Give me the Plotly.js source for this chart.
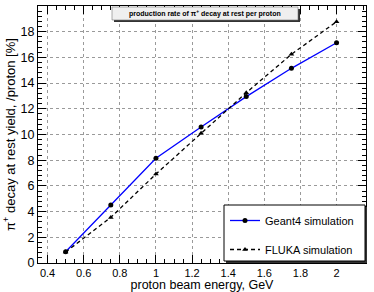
<!DOCTYPE html>
<html>
<head>
<meta charset="utf-8">
<script src="https://cdn.plot.ly/plotly-3.0.1.min.js"></script>
<style>html,body{margin:0;padding:0;background:#fff;}#chart{width:374px;height:292px;}</style>
</head>
<body>
<div id="chart"></div>
<script>
var energies = [0.5, 0.75, 1.0, 1.25, 1.5, 1.75, 2.0];
var geant4Yield = [0.88, 4.51, 8.15, 10.58, 12.95, 15.15, 17.14];
var flukaYield = [0.85, 3.55, 6.92, 10.09, 13.25, 16.24, 18.78];
var seriesNames = ["Geant4 simulation", "FLUKA simulation"];
var chartTitle = "<b>production rate of π<sup>+</sup> decay at rest per proton</b>";
var xTitle = "proton beam energy, GeV";
var yTitle = "π<sup>+</sup> decay at rest yield, /proton [%]";

var W = 374, H = 292, ML = 38, MR = 8, MT = 6, MB = 29;
var PW = W - ML - MR, PH = H - MT - MB;
function px(x) { return (x - ML) / PW; }
function py(y) { return (H - MB - y) / PH; }

var font = "Liberation Sans, Arial, Helvetica, sans-serif";

var traces = [
  {
    x: energies, y: geant4Yield, name: seriesNames[0], mode: "lines+markers",
    line: {color: "#0000ff", width: 1.3},
    marker: {symbol: "circle", size: 5, color: "#000"},
    legendgroup: "g1"
  },
  {
    x: energies, y: flukaYield, name: seriesNames[1], mode: "lines+markers",
    line: {color: "#000", width: 1.3, dash: "4px,3px"},
    marker: {symbol: "triangle-up", size: 5, color: "#000"},
    legendgroup: "g2"
  }
];

var axisCommon = {
  showline: true, linecolor: "#000", linewidth: 1, mirror: "ticks",
  ticks: "inside", ticklen: 8, tickwidth: 1, tickcolor: "#000",
  showgrid: true, gridcolor: "#9a9a9a", griddash: "dot", gridwidth: 1,
  zeroline: false
};

var layout = {
  width: W, height: H,
  margin: {l: ML, r: MR, t: MT, b: MB, pad: 0},
  paper_bgcolor: "#fff", plot_bgcolor: "#fff",
  font: {family: font, color: "#000"},
  showlegend: true,
  legend: {
    x: px(225), y: py(206), xanchor: "left", yanchor: "top",
    bgcolor: "rgba(0,0,0,0)", borderwidth: 0,
    font: {size: 11, family: font, color: "#000"},
    traceorder: "grouped", tracegroupgap: 10
  },
  xaxis: Object.assign({}, axisCommon, {
    range: [0.347, 2.163], tick0: 0.4, dtick: 0.2,
    tickfont: {size: 11, family: font, color: "#000"},
    minor: {dtick: 0.05, ticklen: 4, ticks: "inside", tickcolor: "#000", showgrid: false},
    title: {text: xTitle, font: {size: 12.5, family: font, color: "#000"}, standoff: 4}
  }),
  yaxis: Object.assign({}, axisCommon, {
    range: [0, 20], tick0: 0, dtick: 2,
    tickfont: {size: 12.5, family: font, color: "#000"},
    minor: {dtick: 0.4, ticklen: 4, ticks: "inside", tickcolor: "#000", showgrid: false},
    title: {text: yTitle, font: {size: 13, family: font, color: "#000"}, standoff: 2}
  }),
  shapes: [
    {type: "rect", xref: "paper", yref: "paper", layer: "above",
     x0: px(114), x1: px(300), y0: py(22), y1: py(9), fillcolor: "#333", line: {width: 0}},
    {type: "rect", xref: "paper", yref: "paper", layer: "above",
     x0: px(112), x1: px(298), y0: py(20), y1: py(7), fillcolor: "#efefef", line: {color: "#777", width: 0.6}},
    {type: "rect", xref: "paper", yref: "paper", layer: "above",
     x0: px(226), x1: px(367), y0: py(263), y1: py(207), fillcolor: "#333", line: {width: 0}},
    {type: "rect", xref: "paper", yref: "paper", layer: "above",
     x0: px(224), x1: px(365), y0: py(261), y1: py(205), fillcolor: "#fff", line: {color: "#000", width: 1}}
  ],
  annotations: [
    {xref: "paper", yref: "paper", x: px(205), y: py(13.5), xanchor: "center", yanchor: "middle",
     text: chartTitle, showarrow: false, font: {size: 7, family: font, color: "#000"}}
  ]
};

Plotly.newPlot("chart", traces, layout, {displayModeBar: false, staticPlot: true});
</script>
</body>
</html>
